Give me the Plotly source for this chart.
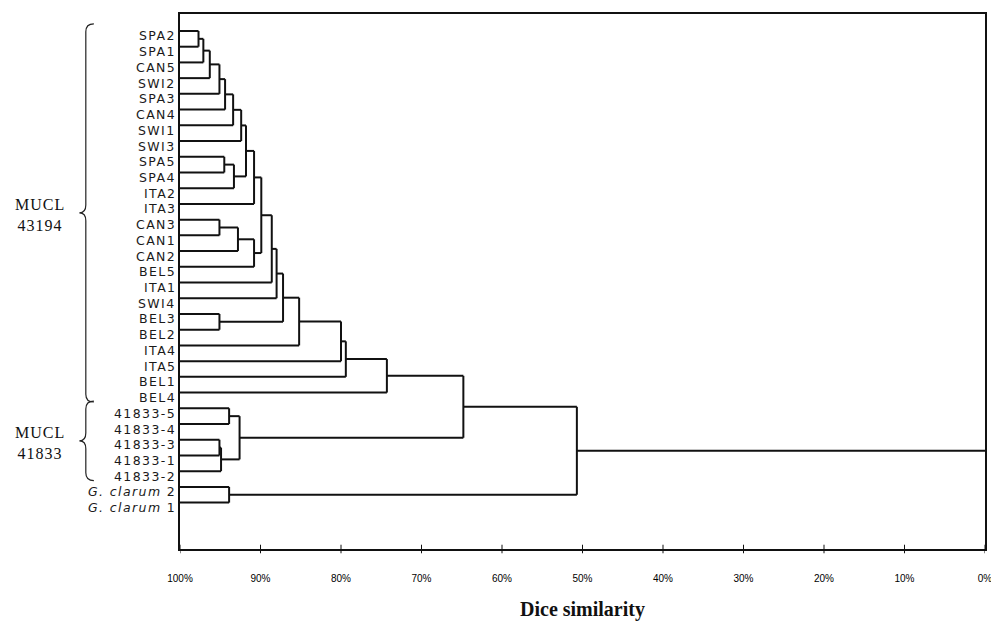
import plotly.graph_objects as go

# ---------------- data ----------------
leaves = ["SPA2", "SPA1", "CAN5", "SWI2", "SPA3", "CAN4", "SWI1", "SWI3", "SPA5", "SPA4",
          "ITA2", "ITA3", "CAN3", "CAN1", "CAN2", "BEL5", "ITA1", "SWI4", "BEL3", "BEL2",
          "ITA4", "ITA5", "BEL1", "BEL4", "41833-5", "41833-4", "41833-3", "41833-1",
          "41833-2", "<i>G. clarum</i> 2", "<i>G. clarum</i> 1"]

# merge k creates node len(leaves)+k from nodes merge_a[k], merge_b[k] at merge_sim[k] (%)
merge_a = [0, 31, 32, 33, 34, 35, 36, 8, 38, 37, 40, 12, 42, 43, 41, 45, 46, 18, 47, 49,
           50, 51, 52, 24, 26, 55, 54, 53, 29, 58]
merge_b = [1, 2, 3, 4, 5, 6, 7, 9, 10, 39, 11, 13, 14, 15, 44, 16, 17, 19, 48, 20,
           21, 22, 23, 25, 27, 28, 56, 57, 30, 59]
merge_sim = [97.7, 97.1, 96.3, 95.1, 94.4, 93.4, 92.4, 94.5, 93.3, 91.8, 90.8, 95.1, 92.8,
             90.8, 89.9, 88.6, 88.0, 95.1, 87.2, 85.2, 80.0, 79.4, 74.3, 93.9, 95.1, 94.9,
             92.6, 64.8, 93.9, 50.7]

groups = ["MUCL<br>43194", "MUCL<br>41833"]
group_first = [0, 24]
group_last = [23, 28]

tick_vals = [100, 90, 80, 70, 60, 50, 40, 30, 20, 10, 0]
tick_text = ["100%", "90%", "80%", "70%", "60%", "50%", "40%", "30%", "20%", "10%", "0%"]
x_title = "Dice similarity"

# ---------------- dendrogram geometry ----------------
n = len(leaves)
node_h = [100.0] * n
node_y = [float(i) for i in range(n)]
parent_h = {}
for k, (a, b, s) in enumerate(zip(merge_a, merge_b, merge_sim)):
    node_h.append(s)
    node_y.append((node_y[a] + node_y[b]) / 2)
    parent_h[a] = s
    parent_h[b] = s
root = n + len(merge_sim) - 1
parent_h[root] = 0.0

xs, ys = [], []
for node in range(len(node_h)):
    xs += [node_h[node], parent_h[node], None]
    ys += [node_y[node], node_y[node], None]
for k, (a, b, s) in enumerate(zip(merge_a, merge_b, merge_sim)):
    xs += [s, s, None]
    ys += [node_y[a], node_y[b], None]

fig = go.Figure()
fig.add_trace(go.Scatter(x=xs, y=ys, mode="lines",
                         line=dict(color="#111111", width=2),
                         hoverinfo="skip", showlegend=False))

# leaf labels
for i, lab in enumerate(leaves):
    fig.add_annotation(x=0, xref="paper", y=i, yref="y",
                       text=f'<span style="letter-spacing:1.4px">{lab}</span>',
                       showarrow=False, xanchor="right", yanchor="middle",
                       xshift=-2, yshift=-5,
                       font=dict(family="DejaVu Sans", size=12.5, color="#1a1a1a"))

# group braces and labels
def brace_path(x_spine, x_tip, x_hook, y0, y1, r):
    ym = (y0 + y1) / 2
    return (f"M {x_hook},{y0} Q {x_spine},{y0} {x_spine},{y0 + r} "
            f"L {x_spine},{ym - r} Q {x_spine},{ym} {x_tip},{ym} "
            f"Q {x_spine},{ym} {x_spine},{ym + r} "
            f"L {x_spine},{y1 - r} Q {x_spine},{y1} {x_hook},{y1}")

for g, f, l in zip(groups, group_first, group_last):
    y0 = f - 0.45
    y1 = l + 0.6
    fig.add_shape(type="path", xref="paper", yref="y",
                  path=brace_path(-0.117, -0.125, -0.107, y0, y1, 0.5),
                  line=dict(color="#222222", width=1.2))
    fig.add_annotation(x=-0.174, xref="paper", y=(y0 + y1) / 2, yref="y",
                       text=f'<span style="letter-spacing:1px">{g}</span>',
                       showarrow=False, xanchor="center", yanchor="middle", yshift=-2,
                       font=dict(family="Liberation Serif", size=16, color="#111111"))

# crossing tick marks
for v in tick_vals:
    fig.add_shape(type="line", xref="x", yref="paper", x0=v, x1=v, y0=-0.008, y1=0.008,
                  line=dict(color="#111111", width=1))

fig.add_annotation(x=0.5, xref="paper", y=-0.114, yref="paper", text=f"<b>{x_title}</b>",
                   showarrow=False, xanchor="center", yanchor="middle",
                   font=dict(family="Liberation Serif", size=20, color="#111111"))

fig.update_xaxes(range=[100, 0], tickvals=tick_vals, ticktext=tick_text,
                 showgrid=False, zeroline=False, showline=True, mirror=True,
                 linecolor="#111111", linewidth=1.5, ticks="",
                 ticklabelstandoff=19,
                 tickfont=dict(family="Liberation Sans", size=10, color="#000000"))
fig.update_yaxes(range=[32.95, -1.08], showgrid=False, zeroline=False, showline=True,
                 mirror=True, linecolor="#111111", linewidth=1.5,
                 showticklabels=False, ticks="")

# the page body has an 8px margin, so the figure is sized/offset to compensate
fig.update_layout(width=991, height=614, plot_bgcolor="white", paper_bgcolor="white",
                  margin=dict(l=172, r=14, t=4, b=73), showlegend=False)

fig.write_html("out.html")
